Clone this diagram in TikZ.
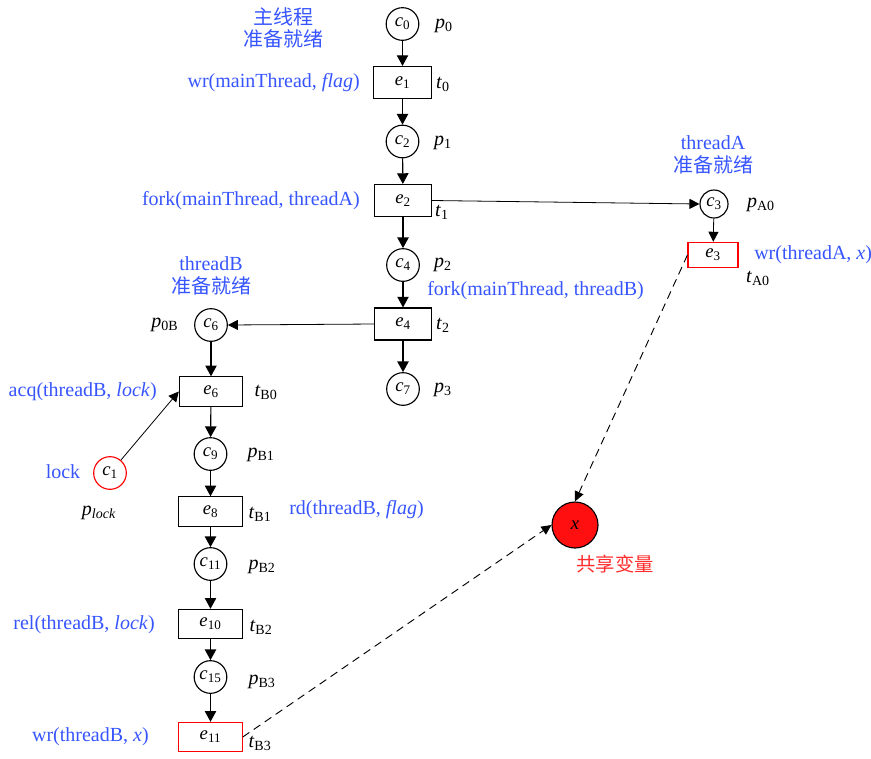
\documentclass[tikz,border=0pt]{standalone}
\usepackage{fontspec}
\setmainfont{Liberation Serif}
\newfontfamily\cjk{Noto Sans CJK SC}
\usetikzlibrary{arrows.meta}
\definecolor{lblue}{RGB}{55,85,255}
\definecolor{xred}{RGB}{255,15,15}
\definecolor{tred}{RGB}{255,45,45}
\newcommand\sbx[2]{\textit{#1}\textsubscript{#2}}
\tikzset{
  place/.style={circle,draw,line width=0.85pt,minimum size=24.5pt,inner sep=0pt,font=\fontsize{14}{16}\selectfont},
  trans/.style={rectangle,draw,line width=0.85pt,minimum width=43pt,minimum height=24pt,inner sep=0pt,font=\fontsize{14}{16}\selectfont},
  transb/.style={trans,minimum width=47.5pt,minimum height=22pt},
  lab/.style={text=lblue,inner sep=0pt,font=\fontsize{15}{17}\selectfont},
  cjklab/.style={text=lblue,inner sep=0pt,align=center,font=\fontsize{15}{17}\selectfont},
  nm/.style={inner sep=0pt,font=\fontsize{15}{17}\selectfont},
  arr/.style={-{Triangle[length=8pt,width=8.5pt]},line width=0.85pt},
  tarr/.style={-{Triangle[length=7.5pt,width=7.5pt]},line width=0.6pt},
  darr/.style={-{Triangle[length=7.5pt,width=7pt]},line width=0.7pt,dash pattern=on 6pt off 4pt}
}
\begin{document}
\begin{tikzpicture}[x=0.75pt,y=-0.75pt]
\useasboundingbox (0,0) rectangle (871,758);
% main thread
\node[place] (c0) at (402.5,24) {\sbx{c}{0}};
\node[trans] (e1) at (402.5,82.5) {\sbx{e}{1}};
\node[place] (c2) at (402.5,141.5) {\sbx{c}{2}};
\node[trans] (e2) at (403,200.5) {\sbx{e}{2}};
\node[place] (c4) at (403,265) {\sbx{c}{4}};
\node[trans] (e4) at (403,324) {\sbx{e}{4}};
\node[place] (c7) at (403,389) {\sbx{c}{7}};
% thread A
\node[place,minimum size=21pt] (c3) at (714,204) {\sbx{c}{3}};
\node[trans,draw=red,minimum width=37.5pt,minimum height=19pt] (e3) at (713,255) {\sbx{e}{3}};
% thread B
\node[place] (c6) at (211,325) {\sbx{c}{6}};
\node[transb] (e6) at (211,391.5) {\sbx{e}{6}};
\node[place] (c9) at (210.5,454) {\sbx{c}{9}};
\node[transb] (e8) at (210.5,511.5) {\sbx{e}{8}};
\node[place] (c11) at (210.5,564) {\sbx{c}{11}};
\node[transb] (e10) at (210.5,624) {\sbx{e}{10}};
\node[place] (c15) at (210.5,677) {\sbx{c}{15}};
\node[transb,draw=red] (e11) at (210.5,737) {\sbx{e}{11}};
\node[place,draw=red] (c1) at (110,473) {\sbx{c}{1}};
% shared variable
\node[circle,draw,fill=xred,line width=0.85pt,minimum size=34.5pt,inner sep=0pt,font=\fontsize{14}{16}\selectfont] (x) at (575,525) {\textit{x}};
% connectors
\draw[arr] (c0) -- (e1);
\draw[arr] (e1) -- (c2);
\draw[arr] (c2) -- (e2);
\draw[arr] (e2) -- (c4);
\draw[arr] (c4) -- (e4);
\draw[arr] (e4) -- (c7);
\draw[tarr] (e2.east) -- (c3.west);
\draw[tarr] (c3) -- (e3);
\draw[tarr] (e4.west) -- (c6.east);
\draw[arr] (c6) -- (e6);
\draw[arr] (e6) -- (c9);
\draw[arr] (c9) -- (e8);
\draw[arr] (e8) -- (c11);
\draw[arr] (c11) -- (e10);
\draw[arr] (e10) -- (c15);
\draw[arr] (c15) -- (e11);
\draw[tarr] (c1) -- (e6.west);
\draw[darr] (e3.west) -- (x.north);
\draw[darr] (e11.east) -- (x.west);
% labels main
\node[cjklab] (lmain) at (283,28) {{\cjk 主线程}\\{\cjk 准备就绪}};
\node[nm] (lp0) at (444,26) {\sbx{p}{0}};
\node[nm] (lt0) at (443,84) {\sbx{t}{0}};
\node[lab,anchor=east] (lwr1) at (360,83) {wr(mainThread, \textit{flag})};
\node[nm] (lp1) at (443,143) {\sbx{p}{1}};
\node[lab,anchor=east] (lfa) at (360,201) {fork(mainThread, threadA)};
\node[nm] (lt1) at (442,212) {\sbx{t}{1}};
\node[nm] (lp2) at (443,265) {\sbx{p}{2}};
\node[lab,anchor=west] (lfb) at (427,291) {fork(mainThread, threadB)};
\node[nm] (lt2) at (443,325) {\sbx{t}{2}};
\node[nm] (lp3) at (443,390) {\sbx{p}{3}};
% labels A
\node[cjklab] (lA) at (713,155) {threadA\\{\cjk 准备就绪}};
\node[nm] (lpA) at (761,205) {\sbx{p}{A0}};
\node[lab,anchor=west] (lwrA) at (754,255) {wr(threadA, \textit{x})};
\node[nm] (ltA) at (758,278) {\sbx{t}{A0}};
% labels B
\node[cjklab] (lB) at (211,276) {threadB\\{\cjk 准备就绪}};
\node[nm] (lp0B) at (165,325) {\sbx{p}{0B}};
\node[lab,anchor=east] (lacq) at (157,392) {acq(threadB, \textit{lock})};
\node[nm] (ltB0) at (266,392) {\sbx{t}{B0}};
\node[lab] (llock) at (63,472) {lock};
\node[nm] (lplock) at (99,513) {\sbx{p}{\textit{lock}}};
\node[nm] (lpB1) at (261,455) {\sbx{p}{B1}};
\node[nm] (ltB1) at (260,514) {\sbx{t}{B1}};
\node[lab,anchor=west] (lrd) at (289,510) {rd(threadB, \textit{flag})};
\node[nm] (lpB2) at (262,567) {\sbx{p}{B2}};
\node[lab,anchor=east] (lrel) at (155,625) {rel(threadB, \textit{lock})};
\node[nm] (ltB2) at (261,627) {\sbx{t}{B2}};
\node[nm] (lpB3) at (262,682) {\sbx{p}{B3}};
\node[lab,anchor=east] (lwrB) at (149,737) {wr(threadB, \textit{x})};
\node[nm] (ltB3) at (260,743) {\sbx{t}{B3}};
\node[inner sep=0pt,text=tred,font=\fontsize{14.5}{17}\selectfont\cjk] (lshared) at (615,564) {共享变量};
\end{tikzpicture}
\end{document}
